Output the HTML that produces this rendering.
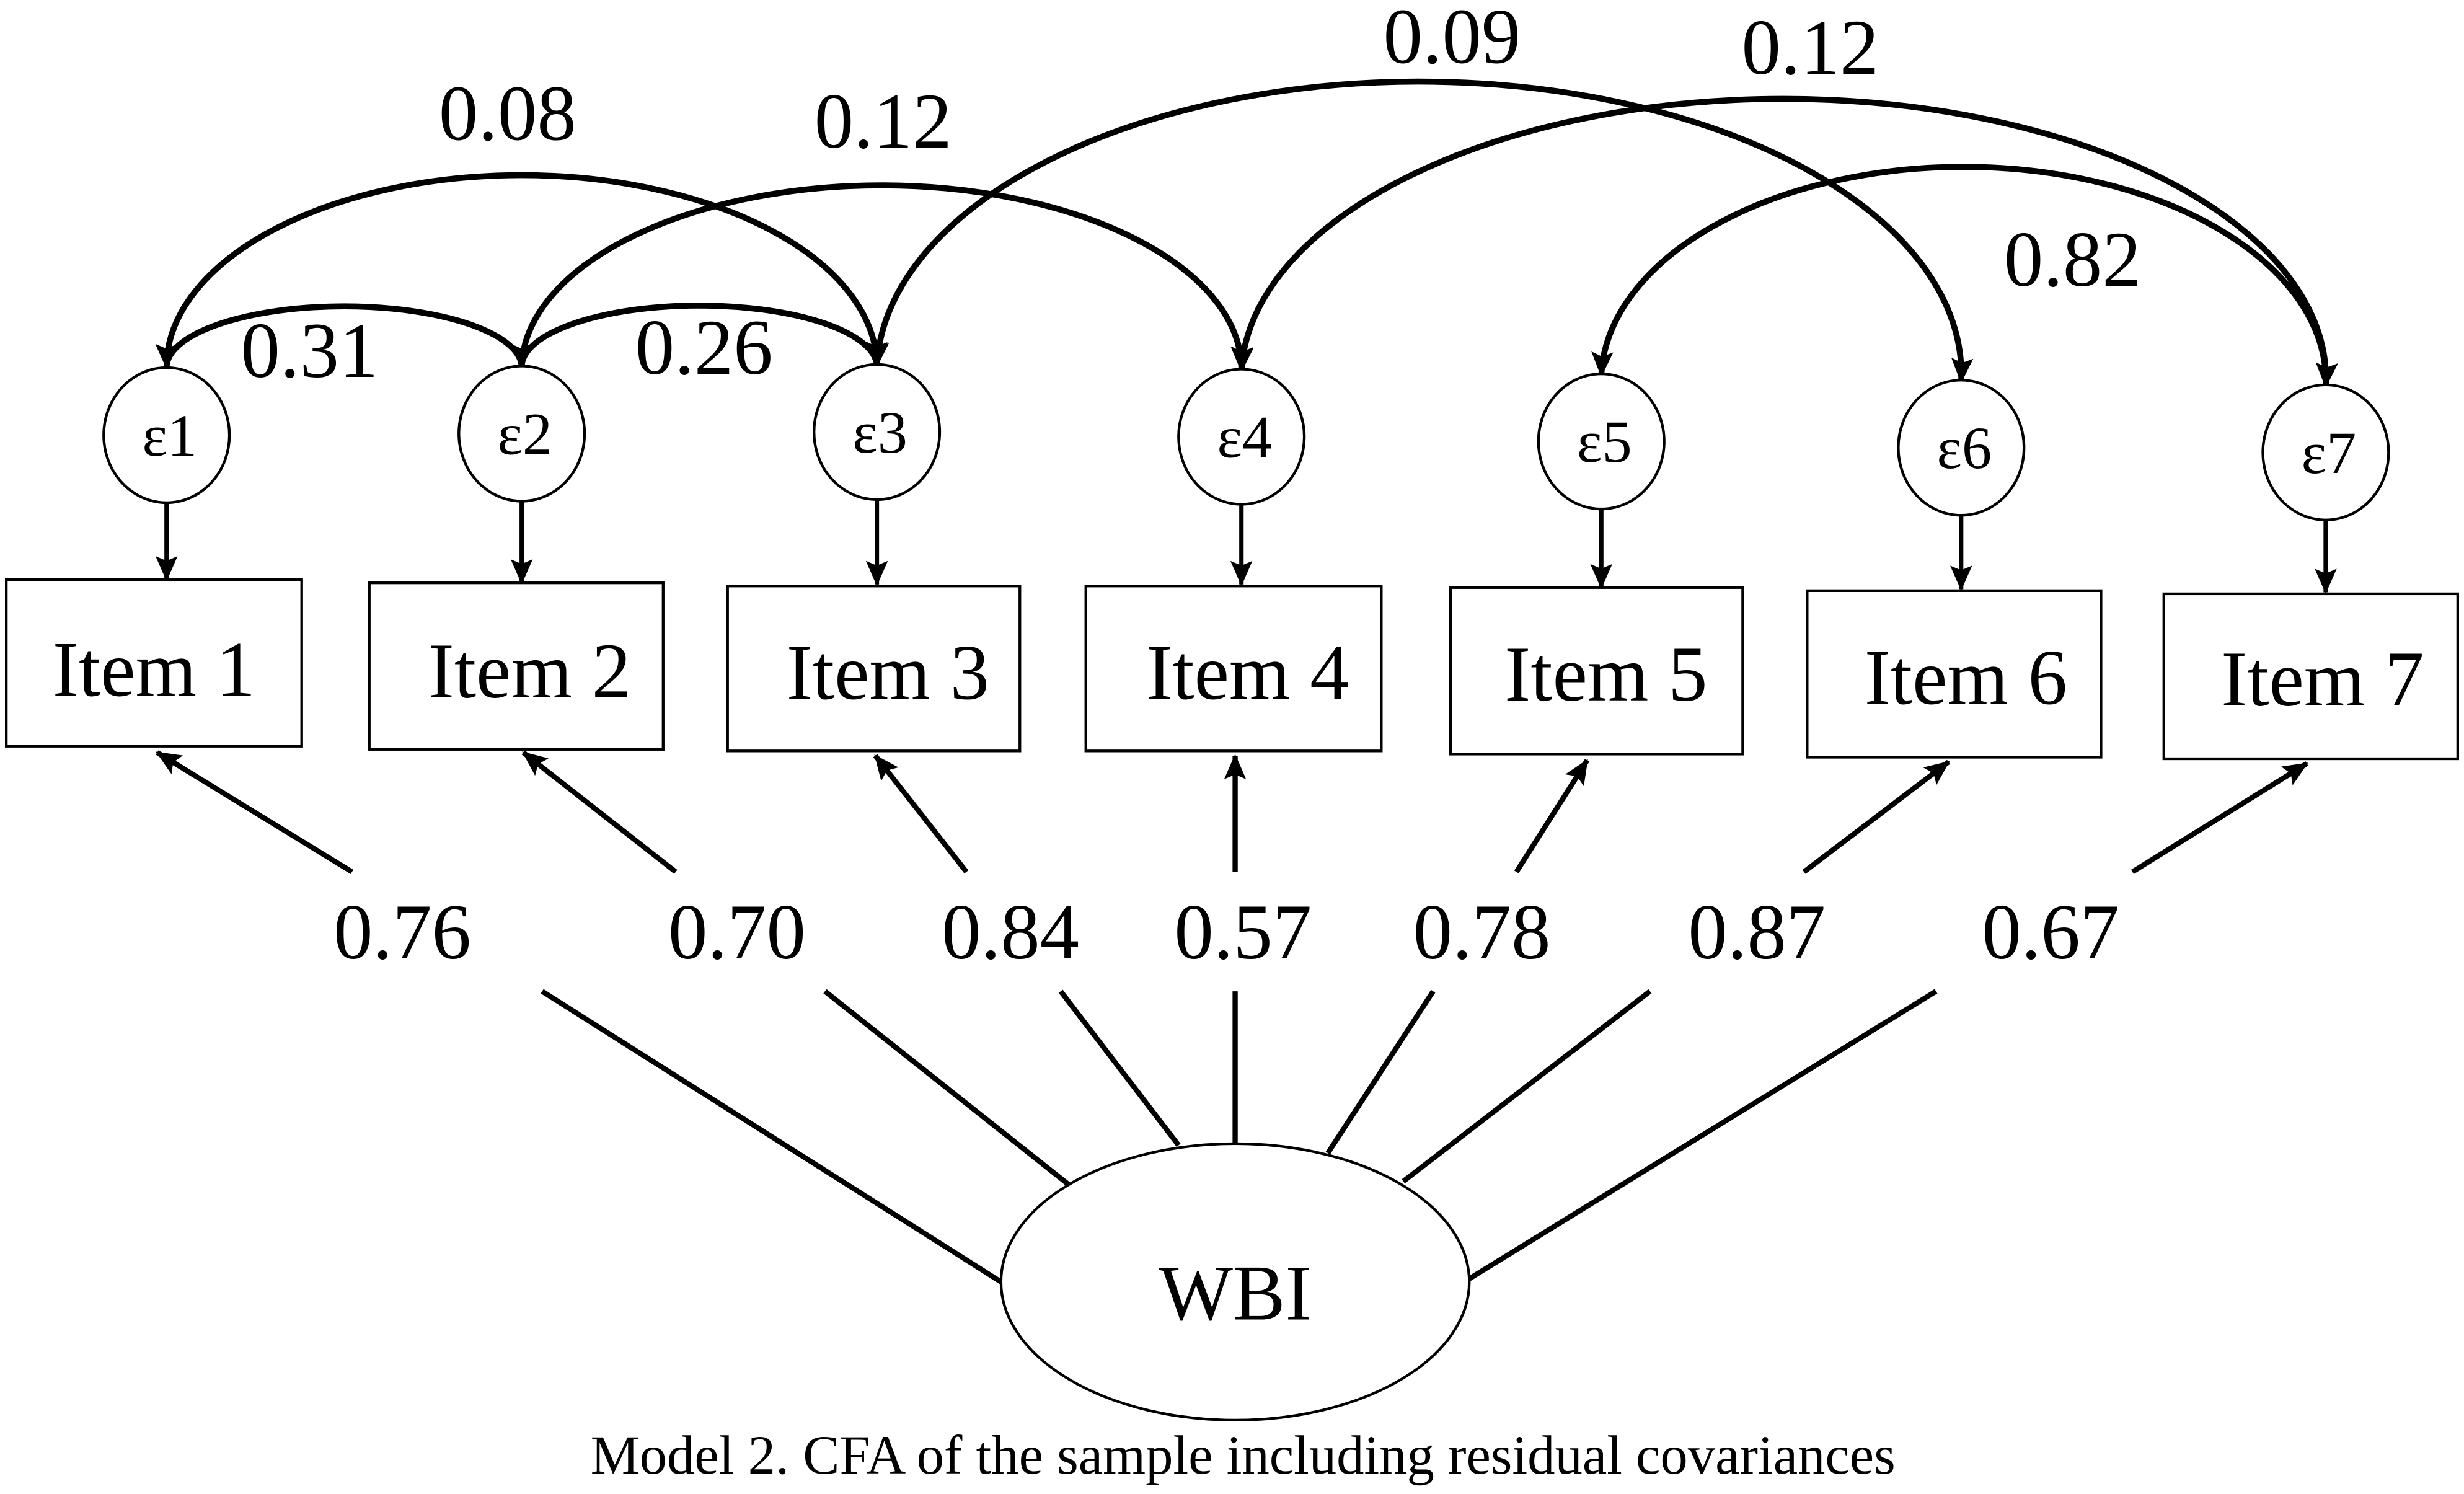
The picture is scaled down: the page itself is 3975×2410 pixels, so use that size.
<!DOCTYPE html>
<html><head><meta charset="utf-8"><style>
html,body{margin:0;padding:0;background:#fff;width:3975px;height:2410px;overflow:hidden}
svg{display:block}
text{font-family:"Liberation Serif","Times New Roman",Times,serif;fill:#000}
</style></head><body>
<svg width="3975" height="2410" viewBox="0 0 1568 951" preserveAspectRatio="none">
<defs>
<marker id="a" markerUnits="userSpaceOnUse" markerWidth="16" markerHeight="14" refX="15" refY="7" orient="auto-start-reverse">
<path d="M0,0 L16,7 L0,14 L3,7 Z" fill="#000"/></marker>
</defs>
<g fill="none" stroke="#000" stroke-width="3.8">
<path d="M106,234 A113,39 0 0 1 332,234" marker-start="url(#a)" marker-end="url(#a)"/>
<path d="M332,234 A113,39 0 0 1 558,233" marker-start="url(#a)" marker-end="url(#a)"/>
<path d="M106,234 A226,122 0 0 1 558,233" marker-start="url(#a)" marker-end="url(#a)"/>
<path d="M332,234 A229,117 0 0 1 790,236" marker-start="url(#a)" marker-end="url(#a)"/>
<path d="M558,233 A345,186 0 0 1 1248,243" marker-start="url(#a)" marker-end="url(#a)"/>
<path d="M790,236 A345,178 0 0 1 1480,246" marker-start="url(#a)" marker-end="url(#a)"/>
<path d="M1019,239 A230,136 0 0 1 1480,246" marker-start="url(#a)" marker-end="url(#a)"/>
</g>
<g fill="none" stroke="#000" stroke-width="2.8">
<line x1="106" y1="320" x2="106" y2="369" marker-end="url(#a)"/>
<line x1="332" y1="319" x2="332" y2="371" marker-end="url(#a)"/>
<line x1="558" y1="318" x2="558" y2="372" marker-end="url(#a)"/>
<line x1="790" y1="321" x2="790" y2="372" marker-end="url(#a)"/>
<line x1="1019" y1="324" x2="1019" y2="374" marker-end="url(#a)"/>
<line x1="1248" y1="328" x2="1248" y2="375" marker-end="url(#a)"/>
<line x1="1480" y1="331" x2="1480" y2="377" marker-end="url(#a)"/>
</g>
<g fill="none" stroke="#000" stroke-width="3.3">
<line x1="224" y1="555" x2="100" y2="479" marker-end="url(#a)"/>
<line x1="430" y1="555" x2="333" y2="479" marker-end="url(#a)"/>
<line x1="615" y1="555" x2="557" y2="481" marker-end="url(#a)"/>
<line x1="786" y1="555" x2="786" y2="481" marker-end="url(#a)"/>
<line x1="965" y1="555" x2="1010" y2="484" marker-end="url(#a)"/>
<line x1="1148" y1="555" x2="1240" y2="485" marker-end="url(#a)"/>
<line x1="1357" y1="555" x2="1468" y2="486" marker-end="url(#a)"/>
<line x1="345" y1="631" x2="637" y2="816"/>
<line x1="525" y1="631" x2="680" y2="754"/>
<line x1="675" y1="631" x2="750" y2="729"/>
<line x1="786" y1="631" x2="786" y2="728"/>
<line x1="912" y1="631" x2="845" y2="734"/>
<line x1="1050" y1="631" x2="893" y2="752"/>
<line x1="1232" y1="631" x2="935" y2="814"/>
</g>
<g fill="#fff" stroke="#000" stroke-width="1.7">
<ellipse cx="106" cy="277" rx="40" ry="43"/>
<ellipse cx="332" cy="276" rx="40" ry="43"/>
<ellipse cx="558" cy="275" rx="40" ry="43"/>
<ellipse cx="790" cy="278" rx="40" ry="43"/>
<ellipse cx="1019" cy="281" rx="40" ry="43"/>
<ellipse cx="1248" cy="285" rx="40" ry="43"/>
<ellipse cx="1480" cy="288" rx="40" ry="43"/>
<rect x="4" y="369" width="188" height="106"/>
<rect x="235" y="371" width="187" height="106"/>
<rect x="463" y="373" width="186" height="105"/>
<rect x="691" y="373" width="188" height="105"/>
<rect x="923" y="374" width="186" height="106"/>
<rect x="1150" y="376" width="187" height="106"/>
<rect x="1377" y="378" width="187" height="105"/>
<ellipse cx="786" cy="816" rx="149" ry="88"/>
</g>
<g font-size="38" text-anchor="middle" font-family="Liberation Serif, Times New Roman, serif">
<text x="108" y="290">ε1</text>
<text x="334" y="289">ε2</text>
<text x="560" y="288">ε3</text>
<text x="792" y="291">ε4</text>
<text x="1021" y="294">ε5</text>
<text x="1250" y="298">ε6</text>
<text x="1482" y="301">ε7</text>
</g>
<g font-size="50" text-anchor="middle" font-family="Liberation Serif, Times New Roman, serif">
<text x="98" y="443">Item 1</text>
<text x="337" y="444">Item 2</text>
<text x="565" y="445">Item 3</text>
<text x="794" y="445">Item 4</text>
<text x="1022" y="446">Item 5</text>
<text x="1251" y="448">Item 6</text>
<text x="1478" y="449">Item 7</text>
<text x="786" y="840">WBI</text>
</g>
<g font-size="50" text-anchor="middle" font-family="Liberation Serif, Times New Roman, serif">
<text x="256" y="610">0.76</text>
<text x="469" y="610">0.70</text>
<text x="643" y="610">0.84</text>
<text x="791" y="610">0.57</text>
<text x="943" y="610">0.78</text>
<text x="1118" y="610">0.87</text>
<text x="1305" y="610">0.67</text>
<text x="323" y="89">0.08</text>
<text x="562" y="94">0.12</text>
<text x="197" y="240">0.31</text>
<text x="448" y="238">0.26</text>
<text x="924" y="40">0.09</text>
<text x="1152" y="47">0.12</text>
<text x="1319" y="182">0.82</text>
</g>
<text x="791" y="938" font-size="35" text-anchor="middle" font-family="Liberation Serif, Times New Roman, serif">Model 2. CFA of the sample including residual covariances</text>
</svg>
</body></html>
